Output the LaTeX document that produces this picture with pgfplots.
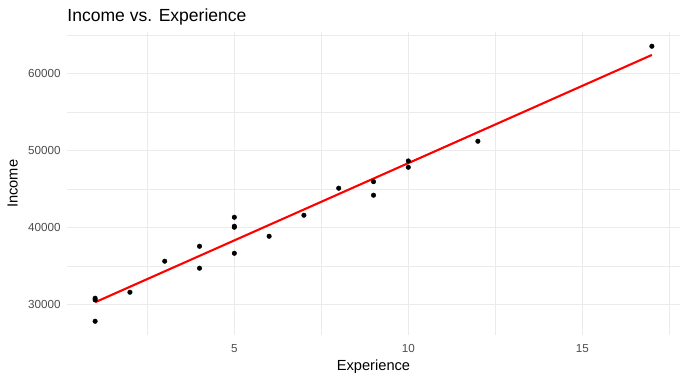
\documentclass[border=0pt]{standalone}
\usepackage{pgfplots}
\pgfplotsset{compat=1.18}
\usepackage{fontspec}
\setmainfont{Liberation Sans}
\definecolor{gridc}{HTML}{EBEBEB}
\definecolor{tickc}{HTML}{4D4D4D}
\begin{document}
\begin{tikzpicture}
\useasboundingbox (-67.3bp,-45bp) rectangle (619.7bp,335bp);
\begin{axis}[
  at={(0,0)}, anchor=south west,
  scale only axis, width=612.4bp, height=302.5bp,
  xmin=0.2, xmax=17.8, ymin=26094, ymax=65386,
  xtick={5,10,15}, ytick={30000,40000,50000,60000},
  minor xtick={2.5,7.5,12.5,17.5},
  minor ytick={35000,45000,55000,65000},
  grid=both,
  major grid style={draw=gridc, line width=1bp},
  minor grid style={draw=gridc, line width=0.55bp},
  axis x line*=bottom, axis y line*=left,
  axis line style={draw=none},
  major tick length=0pt, minor tick length=0pt,
  tick style={draw=none},
  scaled y ticks=false,
  /pgf/number format/1000 sep={},
  /pgf/number format/assume math mode=true,
  ticklabel style={font=\fontsize{11.7}{12}\selectfont, text=tickc, inner sep=0pt},
  yticklabel style={anchor=east, xshift=-6.5bp},
  xticklabel style={anchor=base, yshift=-17.7bp},
  xlabel={Experience}, ylabel={Income},
  xlabel style={at={(axis description cs:0.5,-0.1157)}, anchor=base, inner sep=0pt, font=\fontsize{14.7}{15}\selectfont},
  ylabel style={at={(axis description cs:-0.0813,0.5)}, anchor=base, inner sep=0pt, rotate=0, font=\fontsize{14.7}{15}\selectfont},
  every axis title shift=0pt,
  title={Income vs. Experience},
  title style={at={(axis description cs:0,1.0357)}, anchor=base west, inner sep=0pt, font=\fontsize{17.6}{18}\selectfont},
]
\addplot[only marks, mark=*, mark size=2.3bp, black] coordinates {
(1,30870) (1,30650) (1,27880) (2,31650) (3,35680) (4,37620) (4,34770)
(5,36710) (5,41390) (5,40220) (5,40090) (6,38920) (7,41650) (8,45160)
(9,46010) (9,44250) (10,48700) (10,47880) (12,51260) (17,63600)
};
\addplot[red, line width=2.1bp] coordinates {(1,30350) (17,62470)};
\end{axis}
\end{tikzpicture}
\end{document}
